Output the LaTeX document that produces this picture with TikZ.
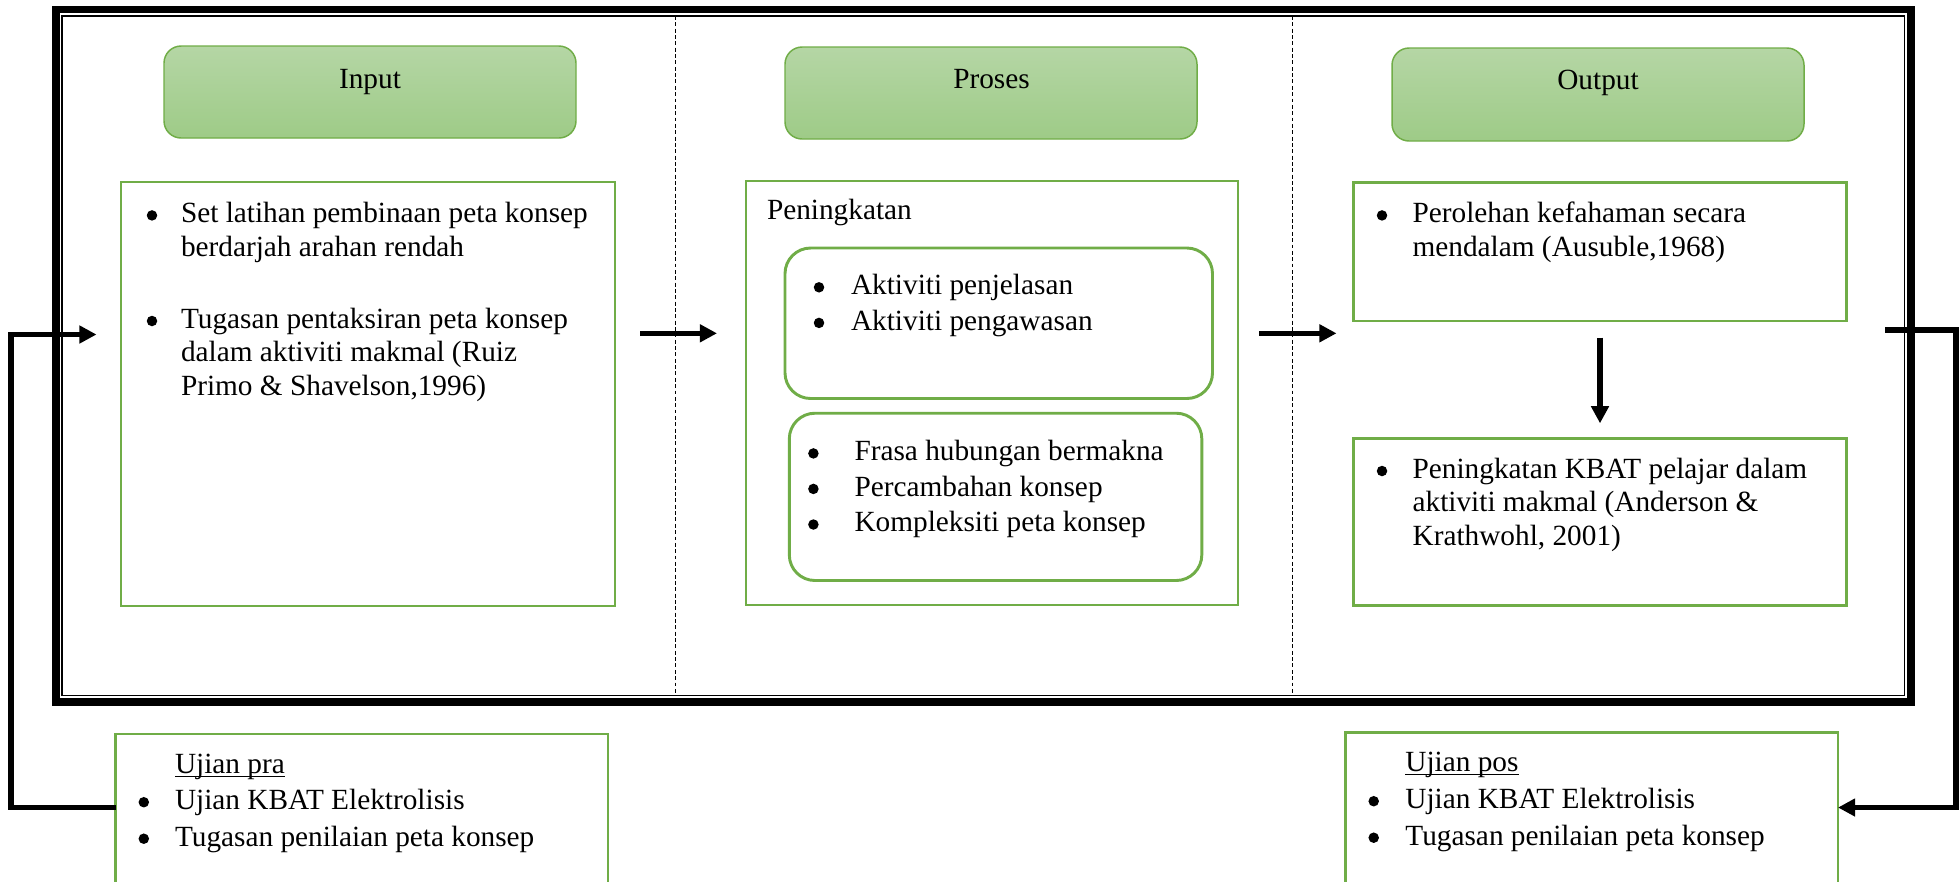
\documentclass[tikz,border=0pt]{standalone}
\usepackage{fontspec}
\setmainfont{Liberation Serif}
\usetikzlibrary{arrows.meta}
\definecolor{grn}{HTML}{70AD47}
\definecolor{hdtop}{HTML}{B5D6A5}
\definecolor{hdbot}{HTML}{9ECB87}
\newcommand\bx[6]{\node[#2, minimum width={(#5-#3)*0.4096pt}, minimum height={(#6-#4)*0.4096pt}] (#1) at ({(#3+#5)/2},{(#4+#6)/2}) {};}
\newcommand\bdot[3]{\node[dotb] (#1) at (#2,{#3-7.3}) {};}
\newcommand\ulx[1]{\setbox0\hbox{#1}\rlap{\rule[-1.7pt]{\wd0}{0.6pt}}\box0}
\tikzset{
 hdr/.style={draw=grn, line width=0.6pt, rounded corners=7pt, top color=hdtop, bottom color=hdbot, inner sep=0pt, outer sep=0pt},
 gbox/.style={draw=grn, line width=1.2pt, inner sep=0pt, outer sep=0pt},
 rbox/.style={gbox, rounded corners=10.5pt},
 tx/.style={anchor=base west, inner sep=0pt, outer sep=0pt, font=\fontsize{12}{14}\selectfont},
 ttl/.style={anchor=base, inner sep=0pt, outer sep=0pt, font=\fontsize{12}{14}\selectfont},
 dotb/.style={circle, fill=black, inner sep=0pt, outer sep=0pt, minimum size=4.3pt},
 arr/.style={line width=2.25pt, -{Triangle[length=7pt,width=7pt]}},
 fb/.style={arr, line join=miter},
 divl/.style={line width=0.4pt, dash pattern=on 1.6pt off 1pt},
}
\begin{document}
\begin{tikzpicture}[x=0.4096pt, y=-0.4096pt]
\fill[white] (0,0) rectangle (1959,881);
\clip (0,0) rectangle (1959,881);
% frame
\draw[line width=3.1pt] (56,9.5) rectangle (1910.8,702);
\draw[line width=0.65pt] (62,16) rectangle (1904.3,695.3);
\draw[divl] (675,16) -- (675,695);
\draw[divl] (1292,16) -- (1292,695);
% headers
\bx{hin}{hdr}{164}{46}{576}{138}
\bx{hpr}{hdr}{785}{47}{1197}{139}
\bx{hout}{hdr}{1392}{48}{1804}{141}
\node[ttl] (hinT) at (370,88) {Input};
\node[ttl] (hprT) at (991.5,88) {Proses};
\node[ttl] (houtT) at (1598,89) {Output};
% boxes
\bx{inb}{gbox}{121}{182}{615}{606}
\bx{prb}{gbox}{746}{181}{1238}{605}
\bx{prr1}{rbox}{785}{248}{1212.5}{398.5}
\bx{prr2}{rbox}{789.3}{413.2}{1201.8}{580.5}
\bx{ob1}{gbox}{1353.6}{182.7}{1846.5}{321}
\bx{ob2}{gbox}{1353.6}{438.3}{1846.5}{605.7}
\bx{upra}{gbox}{115.6}{734}{608}{910}
\bx{upos}{gbox}{1345.6}{732.3}{1838}{910}
% input text
\bdot{b1}{152}{222.7}
\node[tx] (t1) at (181,222.7) {Set latihan pembinaan peta konsep};
\node[tx] (t2) at (181,256) {berdarjah arahan rendah};
\bdot{b2}{152}{328.3}
\node[tx] (t3) at (181,328.3) {Tugasan pentaksiran peta konsep};
\node[tx] (t4) at (181,361.7) {dalam aktiviti makmal (Ruiz};
\node[tx] (t5) at (181,395) {Primo \& Shavelson,1996)};
% proses text
\node[tx] (p0) at (767,219.5) {Peningkatan};
\bdot{b3}{819}{294.6}
\node[tx] (p1) at (851,294.6) {Aktiviti penjelasan};
\bdot{b4}{819}{330.2}
\node[tx] (p2) at (851,330.2) {Aktiviti pengawasan};
\bdot{b5}{813.4}{460.7}
\node[tx] (p3) at (854.5,460.7) {Frasa hubungan bermakna};
\bdot{b6}{813.4}{496.2}
\node[tx] (p4) at (854.5,496.2) {Percambahan konsep};
\bdot{b7}{813.4}{531.8}
\node[tx] (p5) at (854.5,531.8) {Kompleksiti peta konsep};
% output text
\bdot{b8}{1382}{222.7}
\node[tx] (o1) at (1412.6,222.7) {Perolehan kefahaman secara};
\node[tx] (o2) at (1412.6,256.7) {mendalam (Ausuble,1968)};
\bdot{b9}{1382}{478.3}
\node[tx] (o3) at (1412.6,478.3) {Peningkatan KBAT pelajar dalam};
\node[tx] (o4) at (1412.6,511.7) {aktiviti makmal (Anderson \&};
\node[tx] (o5) at (1412.6,545.3) {Krathwohl, 2001)};
% ujian pra
\node[tx] (u0) at (175,773) {\ulx{Ujian pra}};
\bdot{b10}{143.8}{809.5}
\node[tx] (u1) at (175,809.5) {Ujian KBAT Elektrolisis};
\bdot{b11}{143.8}{846}
\node[tx] (u2) at (175,846) {Tugasan penilaian peta konsep};
% ujian pos
\node[tx] (v0) at (1405.4,771) {\ulx{Ujian pos}};
\bdot{b12}{1373.7}{808.5}
\node[tx] (v1) at (1405.4,808.5) {Ujian KBAT Elektrolisis};
\bdot{b13}{1373.7}{845}
\node[tx] (v2) at (1405.4,845) {Tugasan penilaian peta konsep};
% connector coordinates
\coordinate (a1s) at (640,333.3);
\coordinate (a1e) at (717,333.3);
\coordinate (a2s) at (1259.4,333.3);
\coordinate (a2e) at (1336.5,333.3);
\coordinate (a3s) at (1600,337.7);
\coordinate (a3e) at (1600,423.3);
\coordinate (fLs) at (115.6,807.5);
\coordinate (fLc) at (11,334.5);
\coordinate (fLe) at (96.5,334.5);
\coordinate (fRs) at (1885,330);
\coordinate (fRc) at (1956,807.5);
\coordinate (fRe) at (1838,807.5);
% connectors
\draw[arr] (a1s) -- (a1e);
\draw[arr] (a2s) -- (a2e);
\draw[arr] (a3s) -- (a3e);
\draw[fb] (fLs) -| (fLc) -- (fLe);
\draw[fb] (fRs) -| (fRc) -- (fRe);
\end{tikzpicture}
\end{document}
